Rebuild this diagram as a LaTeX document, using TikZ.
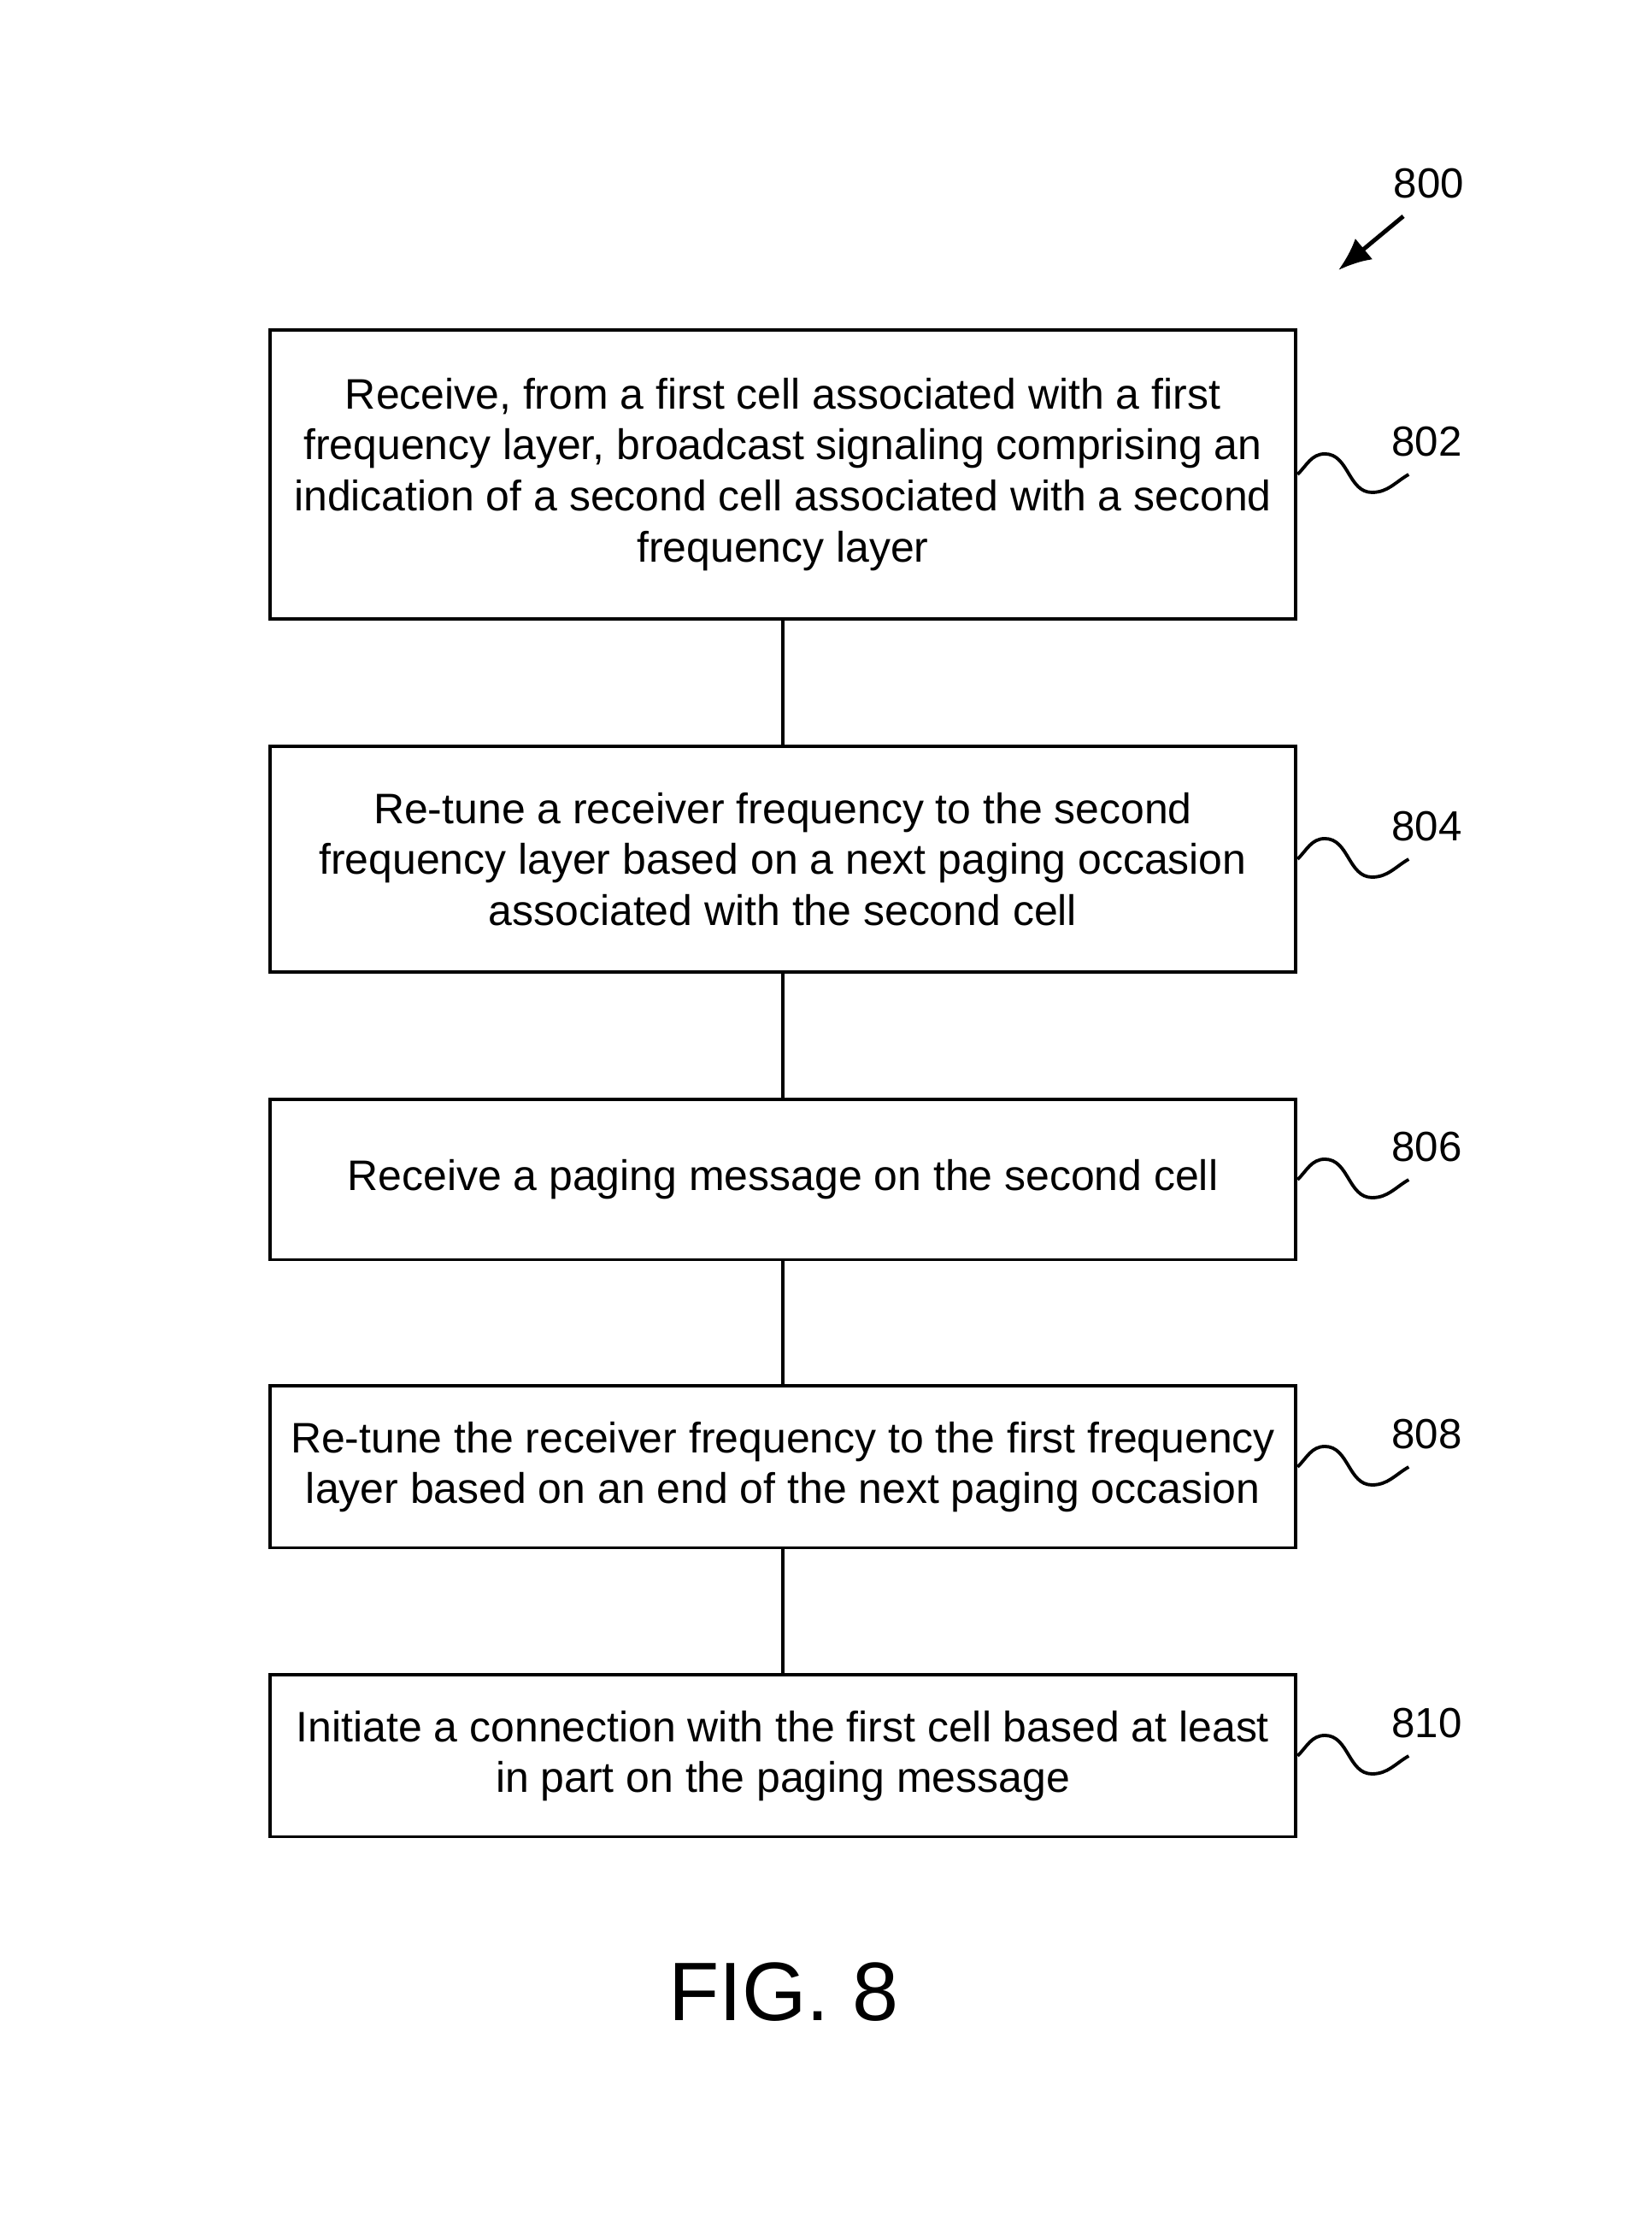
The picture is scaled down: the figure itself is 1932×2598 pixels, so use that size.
\documentclass[tikz,border=0pt]{standalone}
\usepackage{fontspec}
\setmainfont{Liberation Sans}
\usepackage{tikz}
\usetikzlibrary{arrows.meta}

\begin{document}
\begin{tikzpicture}[x=0.01cm,y=0.01cm,
  stepbox/.style={draw,line width=1.1pt,minimum width=12cm,align=center,inner sep=0pt,
    font=\fontsize{14.2}{17}\selectfont},
  lbl/.style={font=\fontsize{14}{17}\selectfont},
  wave/.style={line width=1.1pt}]
\useasboundingbox (0,0) rectangle (1932,2598);
\node [stepbox,minimum height=3.38cm] (b802) at (916,2043) {Receive, from a first cell associated with a first\\ frequency layer, broadcast signaling comprising an\\ indication of a second cell associated with a second\\ frequency layer};
\node [stepbox,minimum height=2.64cm] (b804) at (916,1593) {Re-tune a receiver frequency to the second\\ frequency layer based on a next paging occasion\\ associated with the second cell};
\node [stepbox,minimum height=1.87cm] (b806) at (916,1218) {Receive a paging message on the second cell};
\node [stepbox,minimum height=1.89cm] (b808) at (916,882) {Re-tune the receiver frequency to the first frequency\\ layer based on an end of the next paging occasion};
\node [stepbox,minimum height=1.89cm] (b810) at (916,544) {Initiate a connection with the first cell based at least\\ in part on the paging message};
\draw [line width=1.1pt] (b802) -- (b804);
\draw [line width=1.1pt] (b804) -- (b806);
\draw [line width=1.1pt] (b806) -- (b808);
\draw [line width=1.1pt] (b808) -- (b810);
\foreach \b in {802,804,806,808,810} {
  \draw [wave] (b\b.east) to[out=45,in=180] ++(32,24) to[out=0,in=180] ++(55,-45) to[out=0,in=210] ++(43,21);
  \node [lbl] (l\b) at ([xshift=1.51cm,yshift=0.38cm]b\b.east) {\b};
}
\node [lbl] (l800) at (1672,2383) {800};
\coordinate (a800) at (1642,2345);
\draw [line width=1.4pt,->,>={Latex[length=11pt,width=9pt]}] (a800) -- (1566,2282);
\node [font=\fontsize{27.6}{32}\selectfont] (fig) at (917,268) {FIG. 8};
\end{tikzpicture}
\end{document}
